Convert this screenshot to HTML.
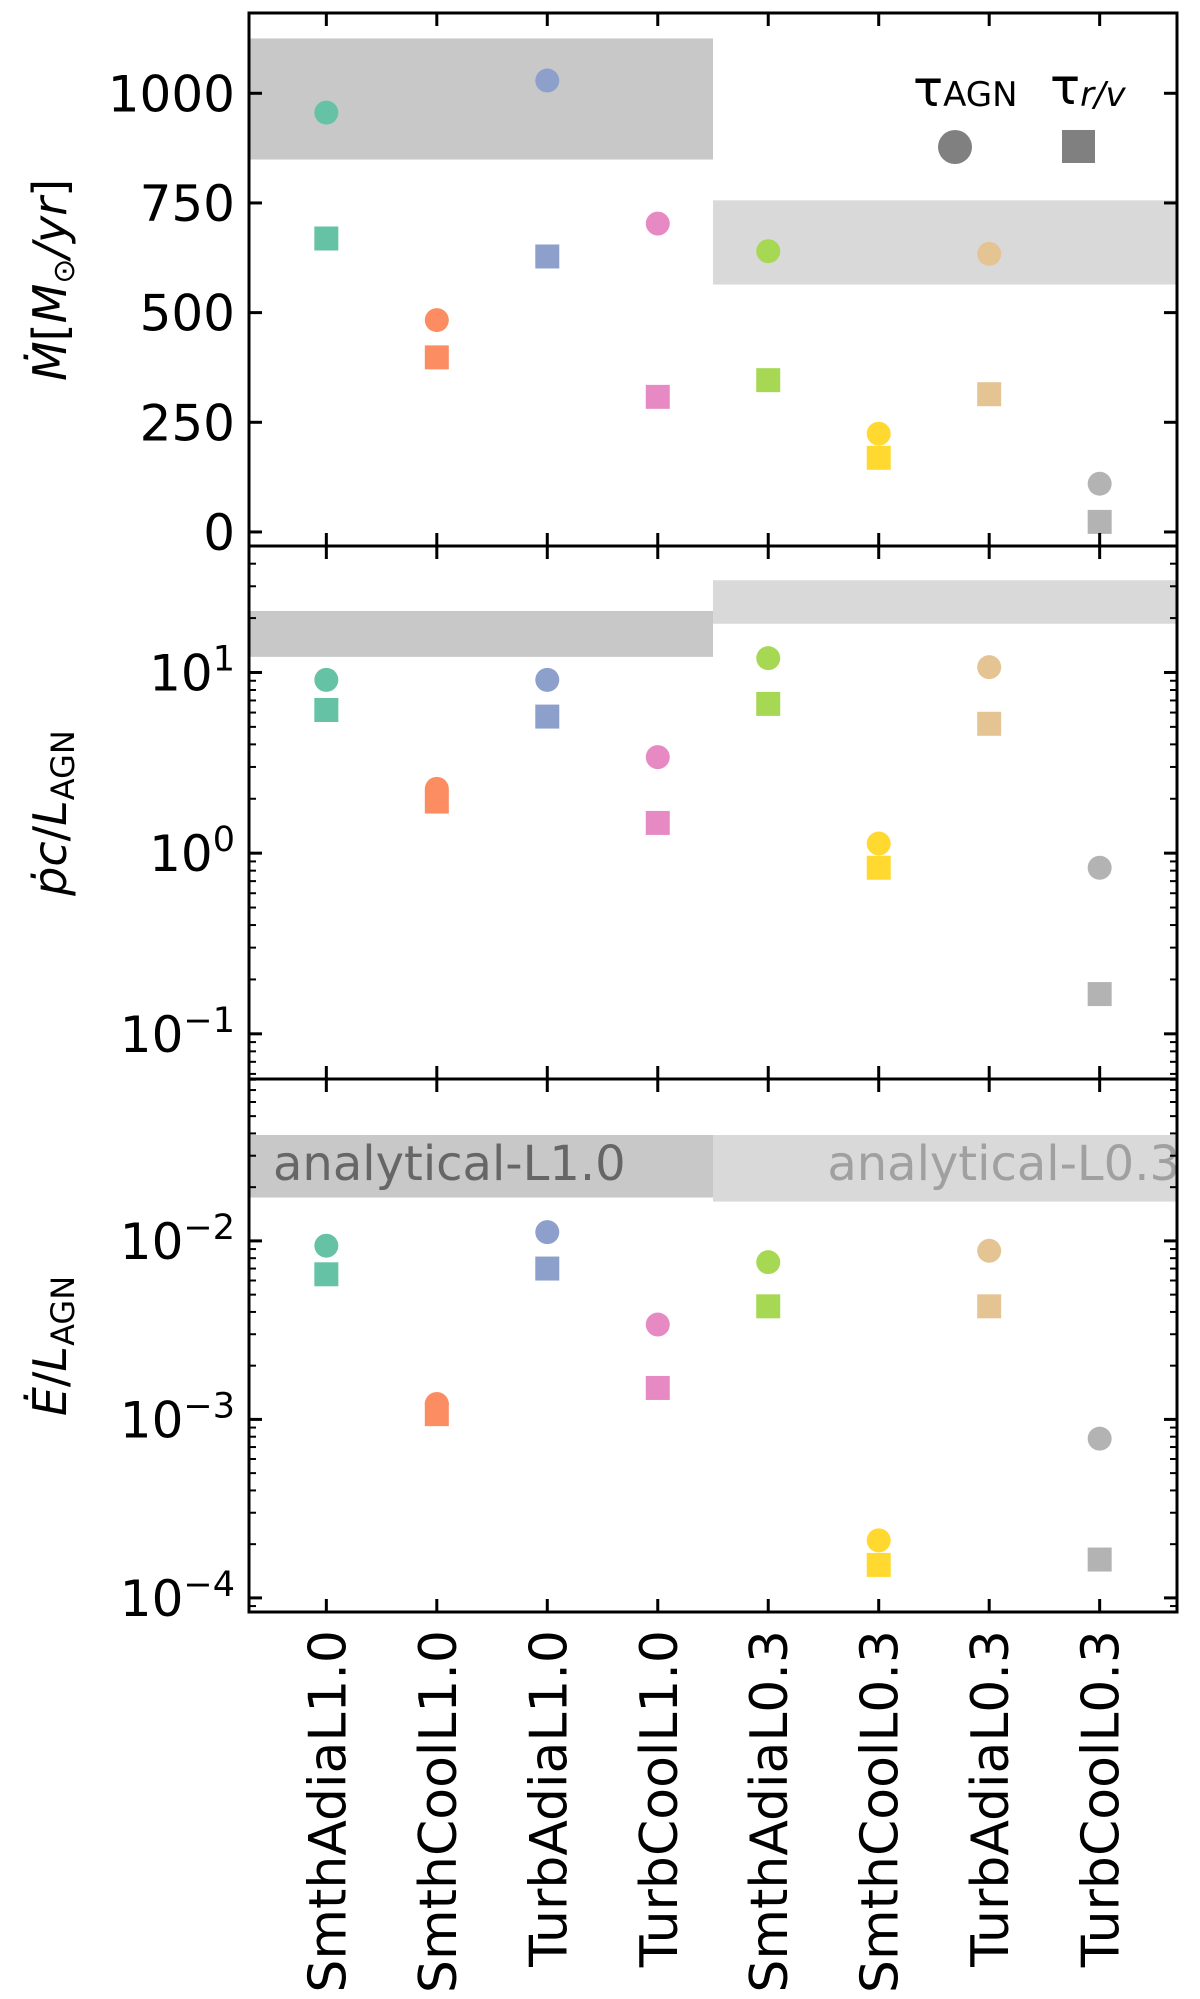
<!DOCTYPE html>
<html><head><meta charset="utf-8"><style>
body{margin:0;background:#fff;}
svg text{font-family:"DejaVu Sans","Liberation Sans",sans-serif;}
</style></head><body>
<svg id="chart" xmlns="http://www.w3.org/2000/svg" width="1200" height="1994" viewBox="0 0 1200 1994"></svg>
<script>
const categories=["SmthAdiaL1.0","SmthCoolL1.0","TurbAdiaL1.0","TurbCoolL1.0","SmthAdiaL0.3","SmthCoolL0.3","TurbAdiaL0.3","TurbCoolL0.3"];
const colors=["#66c2a5","#fc8d62","#8da0cb","#e78ac3","#a6d854","#ffd92f","#e5c494","#b3b3b3"];
const mdotAGN=[956,483,1029,703,640,224,634,110];
const mdotRV=[669,398,628,308,346,169,314,23];
const pAGN=[9.1,2.27,9.1,3.4,12.0,1.13,10.7,0.83];
const pRV=[6.2,1.93,5.7,1.47,6.7,0.83,5.2,0.166];
const eAGN=[9.4e-3,1.22e-3,1.12e-2,3.4e-3,7.6e-3,2.1e-4,8.8e-3,7.8e-4];
const eRV=[6.5e-3,1.07e-3,7.0e-3,1.5e-3,4.3e-3,1.53e-4,4.3e-3,1.64e-4];
const mdotTicks=[0,250,500,750,1000];
const mdotBands=[[849,1125],[564,756]];
const pBands=[[12.2,21.9],[18.6,32.4]];
const eBands=[[1.75e-2,3.92e-2],[1.66e-2,3.92e-2]];

const NS="http://www.w3.org/2000/svg";
const svg=document.getElementById('chart');
function el(t,a,p){const e=document.createElementNS(NS,t);for(const k in a)e.setAttribute(k,a[k]);(p||svg).appendChild(e);return e;}
const L=249,R=1177;
const xs=i=>L+(i+0.7)/8.4*(R-L);
const panels=[
 {top:13,bot:546,log:false,min:-32,max:1183,a:mdotAGN,b:mdotRV,bands:mdotBands,name:'mdot'},
 {top:546,bot:1079,log:true,min:-1.25,max:1.70,a:pAGN,b:pRV,bands:pBands,name:'momentum'},
 {top:1079,bot:1612,log:true,min:-4.079,max:-1.093,a:eAGN,b:eRV,bands:eBands,name:'energy'}];
panels.forEach((p,pi)=>{
 const ys=v=>{const t=p.log?Math.log10(v):v;return p.bot-(t-p.min)/(p.max-p.min)*(p.bot-p.top);};
 const g=el('g',{});
 
 
 const cid='clip'+pi;
 const cp=el('clipPath',{id:cid},g);el('rect',{x:L,y:p.top,width:R-L,height:p.bot-p.top},cp);
 const inner=el('g',{'clip-path':'url(#'+cid+')'},g);
 p.bands.forEach((b,bi)=>{
  const x0=bi==0?L:xs(3.5),x1=bi==0?xs(3.5):R;
  const r=el('rect',{x:x0,y:ys(b[1]),width:x1-x0,height:ys(b[0])-ys(b[1]),fill:bi==0?'#c8c8c8':'#d9d9d9'},inner);
  
  
  if(pi==2){
   const t=el('text',{x:bi==0?273:1180,y:1180,'font-size':48,fill:bi==0?'#666':'#a0a0a0','text-anchor':bi==0?'start':'end'},inner);
   t.textContent=bi==0?'analytical-L1.0':'analytical-L0.3';
   
   
  }
 });
 categories.forEach((c,i)=>{
  const x=xs(i);
  el('line',{x1:x,x2:x,y1:p.top,y2:p.top+13,stroke:'#000','stroke-width':3},g);
  el('line',{x1:x,x2:x,y1:p.bot,y2:p.bot-13,stroke:'#000','stroke-width':3},g);
  const ci=el('circle',{cx:x,cy:ys(p.a[i]),r:12,fill:colors[i]},inner);
  
  
  const sq=el('rect',{x:x-12,y:ys(p.b[i])-12,width:24,height:24,fill:colors[i]},inner);
  
  
 });
 const tick=(y,len)=>{el('line',{x1:L,x2:L+len,y1:y,y2:y,stroke:'#000','stroke-width':len>8?3:2},g);el('line',{x1:R,x2:R-len,y1:y,y2:y,stroke:'#000','stroke-width':len>8?3:2},g);};
 if(!p.log){
  mdotTicks.forEach(v=>{const y=ys(v);tick(y,13);const t=el('text',{x:L-14,y:y+18,'font-size':50,'text-anchor':'end'},g);t.textContent=v;});
 } else {
  for(let d=Math.floor(p.min);d<=Math.ceil(p.max);d++){
   for(let m=1;m<10;m++){const lv=d+Math.log10(m);if(lv<p.min||lv>p.max)continue;const y=p.bot-(lv-p.min)/(p.max-p.min)*(p.bot-p.top);tick(y,m==1?13:7);}
   if(d>=p.min&&d<=p.max){const y=p.bot-(d-p.min)/(p.max-p.min)*(p.bot-p.top);
    const t=el('text',{x:L-14,y:y+18,'font-size':50,'text-anchor':'end'},g);
    t.innerHTML='10<tspan dy="-20" font-size="35">'+(d<0?'\u2212'+(-d):d)+'</tspan>';
    }
  }
 }
 el('rect',{x:L,y:p.top,width:R-L,height:p.bot-p.top,fill:'none',stroke:'#000','stroke-width':3},g);
});
// x labels
categories.forEach((c,i)=>{
 const t=el('text',{x:0,y:0,'font-size':52,'text-anchor':'end',transform:`translate(${xs(i)+19},1630) rotate(-90)`});
 t.textContent=c;
 
 
});
// y titles
const yt=[[280,'<tspan font-style="italic">Ṁ</tspan>[<tspan font-style="italic">M</tspan><tspan font-size="30" dy="8">⊙</tspan><tspan dy="-8" font-style="italic">/yr</tspan>]'],
 [813,'<tspan font-style="italic">ṗc</tspan>/<tspan font-style="italic">L</tspan><tspan font-size="32" dy="8">AGN</tspan>'],
 [1346,'<tspan font-style="italic">Ė</tspan>/<tspan font-style="italic">L</tspan><tspan font-size="32" dy="8">AGN</tspan>']];
yt.forEach(a=>{const t=el('text',{x:0,y:0,'font-size':46,'text-anchor':'middle',transform:`translate(66,${a[0]}) rotate(-90)`});t.innerHTML=a[1];});
// legend
const lg=el('g',{});


const t1=el('text',{x:913,y:106,'font-size':50},lg);t1.innerHTML='τ<tspan font-size="34" dy="0">AGN</tspan>';
const t2=el('text',{x:1050,y:104,'font-size':50},lg);t2.innerHTML='τ<tspan font-size="34" font-style="italic" dy="2">r/v</tspan>';
el('circle',{cx:955,cy:147,r:17,fill:'#808080'},lg);
el('rect',{x:1062,y:130,width:33,height:33,fill:'#808080'},lg);
</script>
</body></html>
